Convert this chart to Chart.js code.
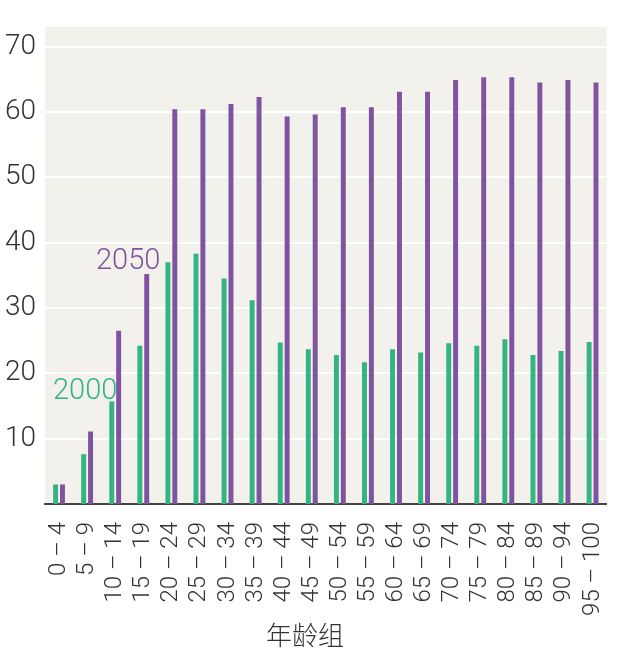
<!DOCTYPE html>
<html>
<head>
<meta charset="utf-8">
<script src="https://cdn.jsdelivr.net/npm/chart.js@4/dist/chart.umd.min.js"></script>
<style>
  html, body { margin: 0; padding: 0; background: #ffffff; }
  #wrap { width: 640px; height: 659px; position: relative; }
</style>
</head>
<body>
<div id="wrap"><canvas id="chart"></canvas></div>
<script>
// Age groups and population share per group
const ageGroups = [
    '0 – 4', '5 – 9', '10 – 14', '15 – 19', '20 – 24', '25 – 29', '30 – 34',
    '35 – 39', '40 – 44', '45 – 49', '50 – 54', '55 – 59', '60 – 64', '65 – 69',
    '70 – 74', '75 – 79', '80 – 84', '85 – 89', '90 – 94', '95 – 100'
];
const values2000 = [
    3.0, 7.6, 15.7, 24.2, 37.0, 38.3, 34.5, 31.2, 24.7, 23.7,
    22.8, 21.7, 23.7, 23.2, 24.6, 24.2, 25.2, 22.8, 23.4, 24.8
];
const values2050 = [
    3.0, 11.1, 26.5, 35.2, 60.4, 60.4, 61.2, 62.3, 59.3, 59.6,
    60.7, 60.7, 63.1, 63.1, 64.9, 65.3, 65.3, 64.5, 64.9, 64.5
];
const yTicks = [10, 20, 30, 40, 50, 60, 70];

const green = '#33b482';
const purple = '#7f53a0';
const textColor = '#333333';
const thinFont = 'Roboto, "Liberation Sans", sans-serif';

// Paint the warm grey plot background and the text labels
const decorPlugin = {
    id: 'decor',
    beforeDraw(chart) {
        const { ctx, chartArea } = chart;
        ctx.save();
        ctx.fillStyle = '#f3f1ec';
        ctx.fillRect(chartArea.left, chartArea.top,
            chartArea.right - chartArea.left, chartArea.bottom - chartArea.top);
        ctx.restore();
    },
    afterDraw(chart) {
        const { ctx } = chart;
        const y = chart.scales.y;
        ctx.save();
        ctx.textBaseline = 'middle';
        ctx.textAlign = 'left';
        ctx.font = '300 29px ' + thinFont;
        ctx.fillStyle = green;
        ctx.fillText('2000', 53, y.getPixelForValue(17.2));
        ctx.fillStyle = purple;
        ctx.fillText('2050', 96, y.getPixelForValue(37.1));

        ctx.textAlign = 'center';
        ctx.fillStyle = textColor;
        ctx.font = '300 26px "Noto Sans CJK SC", sans-serif';
        ctx.fillText('年龄组', 305, 635);
        ctx.restore();
    }
};

const ctx = document.getElementById('chart').getContext('2d');
new Chart(ctx, {
    type: 'bar',
    data: {
        labels: ageGroups,
        datasets: [
            {
                label: '2000',
                data: values2000,
                backgroundColor: green,
                categoryPercentage: 0.49,
                barPercentage: 0.72
            },
            {
                label: '2050',
                data: values2050,
                backgroundColor: purple,
                categoryPercentage: 0.49,
                barPercentage: 0.72
            }
        ]
    },
    options: {
        responsive: true,
        maintainAspectRatio: false,
        animation: false,
        layout: {
            padding: { top: 27, right: 25, left: 0, bottom: 0 }
        },
        plugins: {
            legend: { display: false },
            tooltip: { enabled: false }
        },
        scales: {
            x: {
                grid: { display: false, drawTicks: false },
                border: { display: true, color: '#444444', width: 2 },
                ticks: {
                    color: textColor,
                    font: { family: thinFont, size: 24, weight: 300 },
                    minRotation: 90,
                    maxRotation: 90,
                    padding: 18,
                    autoSkip: false
                },
                afterFit(scale) { scale.height = 155; }
            },
            y: {
                min: 0,
                max: 73,
                grid: { color: '#ffffff', lineWidth: 2, drawTicks: false },
                border: { display: false },
                ticks: {
                    color: textColor,
                    font: { family: thinFont, size: 28, weight: 300 },
                    padding: 9
                },
                afterBuildTicks(scale) {
                    scale.ticks = yTicks.map(v => ({ value: v }));
                },
                afterFit(scale) { scale.width = 45; }
            }
        }
    },
    plugins: [decorPlugin]
});
</script>
</body>
</html>
